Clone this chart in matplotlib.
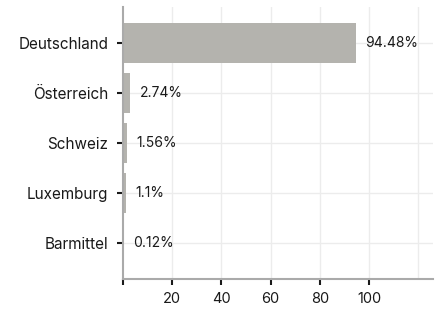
import matplotlib.pyplot as plt

plt.rcParams['font.family'] = ['Inter', 'DejaVu Sans']

countries = ['Deutschland', 'Österreich', 'Schweiz', 'Luxemburg', 'Barmittel']
shares = [94.48, 2.74, 1.56, 1.1, 0.12]
share_labels = ['94.48%', '2.74%', '1.56%', '1.1%', '0.12%']
xticks = [0, 20, 40, 60, 80, 100]
xtick_labels = ['', '20', '40', '60', '80', '100']

fig = plt.figure(figsize=(4.41, 3.10), dpi=100)
ax = fig.add_axes([0.279, 0.10, 0.703, 0.877])

ypos = list(range(len(countries)))[::-1]
ax.barh(ypos, shares, height=0.8, color='#b4b3ae', zorder=2)

for y, v, lab in zip(ypos, shares, share_labels):
    ax.annotate(lab, (v, y), xytext=(7, 0), textcoords='offset points',
                va='center', ha='left', fontsize=10, color='#1a1a1a')

ax.set_xlim(0, 126)
ax.set_ylim(-0.72, 4.72)
ax.set_yticks(ypos)
ax.set_yticklabels(countries, fontsize=11)
ax.set_xticks(xticks)
ax.set_xticklabels(xtick_labels, fontsize=10.5)

# light grid, 120 line has no tick
for gx in [20, 40, 60, 80, 100, 120]:
    ax.axvline(gx, color='#ececec', lw=1, zorder=0)
for gy in ypos:
    ax.axhline(gy, color='#ececec', lw=1, zorder=0)

for s in ['top', 'right']:
    ax.spines[s].set_visible(False)
for s in ['left', 'bottom']:
    ax.spines[s].set_color('#aaaaaa')
    ax.spines[s].set_linewidth(1.5)

ax.tick_params(axis='both', length=4.5, width=1.5, color='#1a1a1a',
               labelcolor='#1a1a1a')
ax.tick_params(axis='y', pad=6)
ax.tick_params(axis='x', pad=5)

fig.savefig('out.png', dpi=100)
